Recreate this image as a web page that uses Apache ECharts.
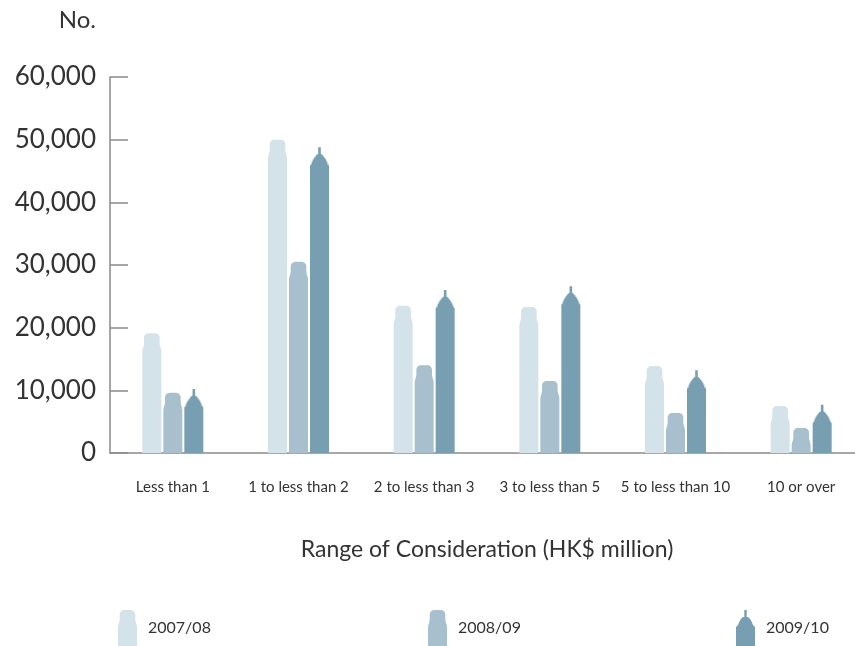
<!DOCTYPE html>
<html>
<head>
<meta charset="utf-8">
<script src="https://cdn.jsdelivr.net/npm/echarts@6/dist/echarts.min.js"></script>
<style>
  html, body { margin: 0; padding: 0; background: #ffffff; }
  #chart { width: 855px; height: 646px; }
</style>
</head>
<body>
<div id="chart"></div>
<script>
// Number of agreements by range of consideration, three financial years
const categories = ['Less than 1', '1 to less than 2', '2 to less than 3', '3 to less than 5', '5 to less than 10', '10 or over'];
const years = ['2007/08', '2008/09', '2009/10'];
const v0708 = [19100, 50000, 23500, 23300, 13900, 7500];
const v0809 = [9600, 30500, 14000, 11500, 6400, 4000];
const v0910 = [10200, 48800, 26000, 26600, 13200, 7700];
const yTicks = [0, 10000, 20000, 30000, 40000, 50000, 60000];

const colors = ['#d4e2ea', '#a8c0cd', '#789fb1'];
const highlight = '#c6d8e1';
const FONT = 'Lato, "Noto Sans", sans-serif';

// Tower silhouettes: rounded crown for the first two series, spire for the third
function domePoints(cx, top, base, capH) {
  const hw = 9.5, inner = 7.8, r = 4.5;
  const pts = [[cx - hw, base], [cx - hw, top + capH], [cx - 9.0, top + capH - 2.5], [cx - 8.2, top + capH - 5], [cx - inner, top + capH - 7]];
  const L = cx - inner, R = cx + inner;
  for (let i = 0; i <= 8; i++) {
    const a = Math.PI + (Math.PI / 2) * (i / 8);
    pts.push([L + r + r * Math.cos(a), top + r + r * Math.sin(a)]);
  }
  for (let i = 0; i <= 8; i++) {
    const a = 1.5 * Math.PI + (Math.PI / 2) * (i / 8);
    pts.push([R - r + r * Math.cos(a), top + r + r * Math.sin(a)]);
  }
  pts.push([cx + inner, top + capH - 7], [cx + 8.2, top + capH - 5], [cx + 9.0, top + capH - 2.5], [cx + hw, top + capH], [cx + hw, base]);
  return pts;
}

function spirePoints(cx, top, base) {
  const rel = [
    [1.3, 0], [1.3, 6.5], [2.8, 7.5], [4.6, 9.5], [6.2, 12], [7.4, 14.5], [8.0, 16.5], [9.5, 18.5]
  ];
  const pts = [[cx - 9.5, base]];
  for (let i = rel.length - 1; i >= 0; i--) pts.push([cx - rel[i][0], top + rel[i][1]]);
  for (let i = 0; i < rel.length; i++) pts.push([cx + rel[i][0], top + rel[i][1]]);
  pts.push([cx + 9.5, base]);
  return pts;
}

function makeRender(kind, offset, color) {
  return function (params, api) {
    const idx = api.value(0);
    const val = api.value(1);
    const topPt = api.coord([idx, val]);
    const basePt = api.coord([idx, 0]);
    const cx = topPt[0] + offset;
    const top = topPt[1], base = basePt[1];
    const children = [];
    if (kind === 'spire') {
      children.push({ type: 'polygon', shape: { points: spirePoints(cx, top, base) }, style: { fill: color } });
      // pale edges along the spire roof
      children.push({ type: 'polyline', shape: { points: [[cx - 3.6, top + 8.5], [cx - 6.0, top + 11.5], [cx - 7.6, top + 14.5], [cx - 8.6, top + 17.5]] }, style: { stroke: highlight, lineWidth: 1, fill: null } });
      children.push({ type: 'polyline', shape: { points: [[cx + 3.6, top + 8.5], [cx + 6.0, top + 11.5], [cx + 7.6, top + 14.5], [cx + 8.6, top + 17.5]] }, style: { stroke: highlight, lineWidth: 1, fill: null } });
    } else {
      const capH = kind === 'tall' ? 18 : 17;
      children.push({ type: 'polygon', shape: { points: domePoints(cx, top, base, capH) }, style: { fill: color } });
    }
    return { type: 'group', children: children };
  };
}

const domeIcon = 'path://M0,36L0,17L0.5,14.5L1.3,12L1.7,10L1.7,5Q1.7,0 6.7,0L12.3,0Q17.3,0 17.3,5L17.3,10L17.7,12L18.5,14.5L19,17L19,36Z';
const spireIcon = 'path://M8.3,0L10.7,0L10.7,7L12,7Q15,9 17,15L19,17L19,36L0,36L0,17L2,15Q4,9 7,7L8.3,7Z';

const seriesValues = [v0708, v0809, v0910];
const kinds = ['tall', 'short', 'spire'];
const offsets = [-21, 0, 21];
const icons = [domeIcon, domeIcon, spireIcon];
const legendLeft = [113, 423, 731];

const chart = echarts.init(document.getElementById('chart'), null, { renderer: 'canvas' });

chart.setOption({
  backgroundColor: '#ffffff',
  animation: false,
  grid: { left: 110, top: 77, width: 754, bottom: 193, containLabel: false, outerBoundsMode: 'none' },
  legend: years.map(function (y, i) {
    return {
      left: legendLeft[i], top: 605,
      itemWidth: 19, itemHeight: 36,
      data: [{ name: y, icon: icons[i] }],
      textStyle: { fontFamily: FONT, fontSize: 16, color: '#333333', padding: [0, 0, 0, 6] }
    };
  }),
  xAxis: {
    type: 'category',
    data: categories,
    boundaryGap: true,
    name: 'Range of Consideration (HK$ million)',
    nameLocation: 'middle',
    nameGap: 85,
    nameTextStyle: { fontFamily: FONT, fontSize: 23, color: '#333333' },
    axisLine: { lineStyle: { color: '#8a8a8a', width: 1.5 } },
    axisTick: { inside: true, length: 8, lineStyle: { color: '#8a8a8a', width: 1.5 } },
    axisLabel: { fontFamily: FONT, fontSize: 15, color: '#333333', margin: 27, interval: 0 },
    splitLine: { show: false }
  },
  yAxis: {
    type: 'value',
    min: yTicks[0],
    max: yTicks[yTicks.length - 1],
    interval: yTicks[1] - yTicks[0],
    name: 'No.',
    nameLocation: 'end',
    nameGap: 45,
    nameTextStyle: { fontFamily: FONT, fontSize: 24, color: '#333333', align: 'right', padding: [0, 14, 0, 0] },
    axisLine: { show: true, lineStyle: { color: '#8a8a8a', width: 1.5 } },
    axisTick: { show: true, inside: true, length: 18, lineStyle: { color: '#8a8a8a', width: 1.5 } },
    axisLabel: {
      fontFamily: FONT, fontSize: 26, color: '#333333', margin: 14,
      formatter: function (v) { return v.toLocaleString('en-US'); }
    },
    splitLine: { show: false }
  },
  series: years.map(function (y, i) {
    return {
      name: y,
      type: 'custom',
      renderItem: makeRender(kinds[i], offsets[i], colors[i]),
      itemStyle: { color: colors[i] },
      encode: { x: 0, y: 1 },
      data: seriesValues[i].map(function (v, k) { return [k, v]; }),
      clip: false
    };
  })
});
</script>
</body>
</html>
